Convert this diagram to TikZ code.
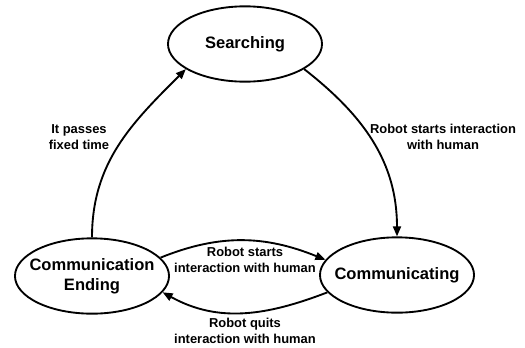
\documentclass[tikz,border=0pt]{standalone}
\usepackage{fontspec}
\setmainfont{Liberation Sans}
\usetikzlibrary{shapes.geometric,arrows.meta}

\begin{document}
\begin{tikzpicture}[x=0.75pt,y=0.75pt,yscale=-1,xscale=1,
    state/.style={draw, ellipse, line width=1.4pt, minimum width=115.5pt, minimum height=56.5pt,
      inner xsep=-6pt, inner ysep=0pt, align=center, font=\fontsize{12.4}{15}\selectfont\bfseries},
    trans/.style={line width=1.4pt, -{Triangle[length=7.5pt,width=6pt]}},
    lbl/.style={inner sep=0.75pt, align=center, font=\fontsize{9.7}{12}\selectfont\bfseries}]
        \useasboundingbox (0,0) rectangle (525,347);

        %Shape: Ellipse [states]
        \node[state] (srch) at (245,44) {Searching};
        \node[state] (comm) at (397,275) {Communicating};
        \node[state] (cend) at (92,276) {Communication\\Ending};

        %Curve Lines [transitions]
        \draw[trans] (cend.north) to[out=-90,in=135] (srch.203);
        \draw[trans] (srch.337) to[out=38,in=-90] (comm.north);
        \draw[trans] (cend.15) to[out=-22,in=202] (comm.168);
        \draw[trans] (comm.194) to[out=159,in=29] (cend.347);

        % Text Node
        \node[lbl] (tfix) at (79,137) {It passes\\fixed time};
        % Text Node
        \node[lbl] (tfind) at (443,137) {Robot starts interaction\\with human};
        % Text Node
        \node[lbl] (tstart) at (245,259.5) {Robot starts\\interaction with human};
        % Text Node
        \node[lbl] (tquit) at (245,330.5) {Robot quits\\interaction with human};
\end{tikzpicture}
\end{document}
